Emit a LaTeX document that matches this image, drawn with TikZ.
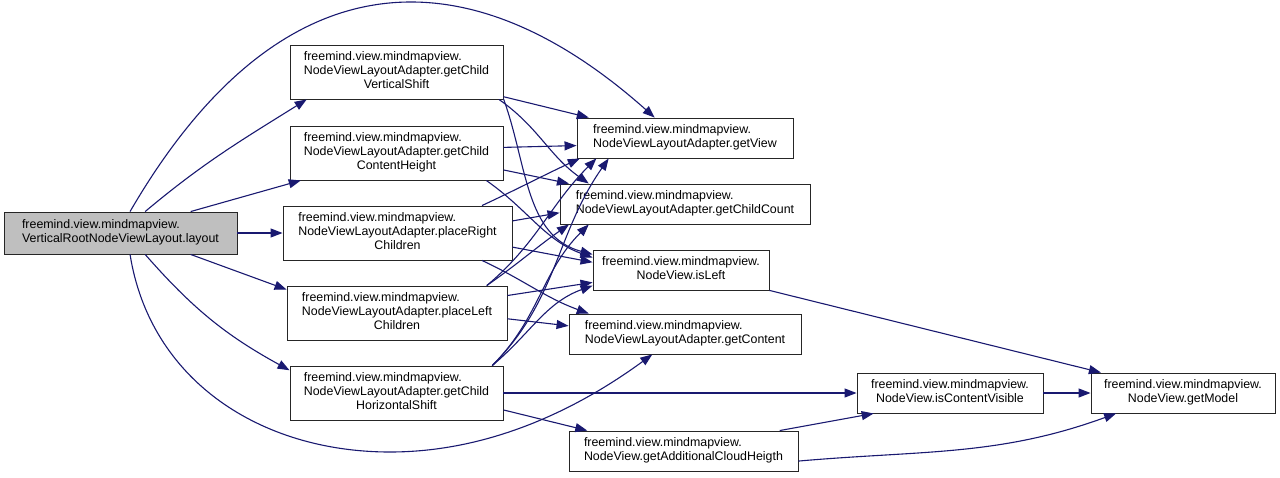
\documentclass[tikz,border=0pt]{standalone}
\usepackage{fontspec}
\setmainfont{Liberation Sans}
\usetikzlibrary{arrows.meta}
\definecolor{callblue}{RGB}{25,25,112}
\definecolor{rootgray}{RGB}{191,191,191}
\newcommand{\fnlabel}[2]{\begin{tabular}{@{}l@{}}#1\\\multicolumn{1}{@{}c@{}}{#2}\end{tabular}}

\begin{document}
\begin{tikzpicture}[x=1pt,y=1pt,
  fnbox/.style={draw=black!85,line width=0.9pt,fill=white,inner sep=0pt,minimum height=40pt,font=\fontsize{12.4}{14}\selectfont},
  call/.style={draw=callblue,line width=1.1pt,-{Triangle[length=12pt,width=9pt]}}]
\useasboundingbox (0,0) rectangle (1280,-477);
\node[fnbox,fill=rootgray,minimum width=233pt,minimum height=42pt] (layout) at (120.5,-233) {\fnlabel{freemind.view.mindmapview.}{VerticalRootNodeViewLayout.layout}};
\node[fnbox,minimum width=213pt,minimum height=54pt] (vshift) at (396.5,-72) {\fnlabel{freemind.view.mindmapview.\\NodeViewLayoutAdapter.getChild}{VerticalShift}};
\node[fnbox,minimum width=213pt,minimum height=54pt] (cheight) at (396.5,-153) {\fnlabel{freemind.view.mindmapview.\\NodeViewLayoutAdapter.getChild}{ContentHeight}};
\node[fnbox,minimum width=229pt,minimum height=54pt] (placer) at (397.5,-233) {\fnlabel{freemind.view.mindmapview.\\NodeViewLayoutAdapter.placeRight}{Children}};
\node[fnbox,minimum width=220pt,minimum height=54pt] (placel) at (397,-313) {\fnlabel{freemind.view.mindmapview.\\NodeViewLayoutAdapter.placeLeft}{Children}};
\node[fnbox,minimum width=213pt,minimum height=54pt] (hshift) at (396.5,-393) {\fnlabel{freemind.view.mindmapview.\\NodeViewLayoutAdapter.getChild}{HorizontalShift}};
\node[fnbox,minimum width=216pt] (getview) at (685,-138) {\fnlabel{freemind.view.mindmapview.}{NodeViewLayoutAdapter.getView}};
\node[fnbox,minimum width=250pt] (ccount) at (685,-204) {\fnlabel{freemind.view.mindmapview.}{NodeViewLayoutAdapter.getChildCount}};
\node[fnbox,minimum width=176pt] (isleft) at (681,-270) {\fnlabel{freemind.view.mindmapview.}{NodeView.isLeft}};
\node[fnbox,minimum width=232pt] (content) at (685,-334) {\fnlabel{freemind.view.mindmapview.}{NodeViewLayoutAdapter.getContent}};
\node[fnbox,minimum width=186pt] (visible) at (950,-393) {\fnlabel{freemind.view.mindmapview.}{NodeView.isContentVisible}};
\node[fnbox,minimum width=184pt] (model) at (1183,-393) {\fnlabel{freemind.view.mindmapview.}{NodeView.getModel}};
\node[fnbox,minimum width=229pt] (cloud) at (683.5,-451) {\fnlabel{freemind.view.mindmapview.}{NodeView.getAdditionalCloudHeigth}};
% straight calls
\foreach \a/\b in {layout.17/cheight.196,layout/placer,layout.-17/placel.168,vshift.-13/getview.168,cheight.3/getview.184,cheight.-9/ccount.170,placer.6/ccount.184,placer.-7/isleft.175,placel.9/isleft.188,placel.-3/content.176,hshift/visible,hshift.-9/cloud.168,isleft.-13/model.166,visible/model,cloud.12/visible.195}
  \draw[call] (\a)--(\b);
% curved calls
\draw[call] (layout.41) to[out=40,in=212] (vshift.197);
\draw[call] (layout.66) .. controls (282,50) and (471,46) .. (getview.146);
\draw[call] (layout.-41) to[bend right=10] (hshift.168);
\draw[call] (layout.-66) .. controls (150,-380) and (260,-452) .. (390,-452) .. controls (500,-452) and (590,-400) .. (content.212);
\draw[call] (vshift.-15) to[out=-35,in=145] (ccount.168);
\draw[call] (vshift.-14) to[out=-70,in=165] (isleft.170);
\draw[call] (cheight.-17) to[out=-35,in=160] (isleft.172);
\draw[call] (placer.18) to[out=25,in=205] (getview.191);
\draw[call] (placer.-18) to[out=-25,in=160] (content.168);
\draw[call] (placel.17) to[out=40,in=225] (getview.193);
\draw[call] (placel.17) to[out=35,in=215] (ccount.190);
\draw[call] (hshift.16) to[out=45,in=235] (getview.195);
\draw[call] (hshift.16) to[out=45,in=225] (ccount.192);
\draw[call] (hshift.16) to[out=40,in=200] (isleft.190);
\draw[call] (cloud.-5) to[out=5,in=200] (model.197);
\end{tikzpicture}
\end{document}
